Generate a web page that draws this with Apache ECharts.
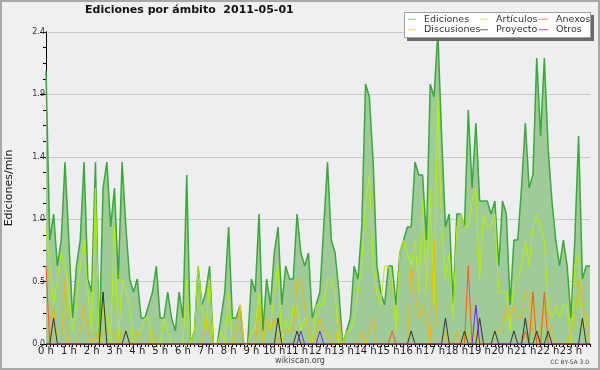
<!DOCTYPE html>
<html>
<head>
<meta charset="utf-8">
<script src="https://cdn.jsdelivr.net/npm/echarts@6/dist/echarts.min.js"></script>
<style>html,body{margin:0;padding:0;background:#f0f0f0}#c{width:600px;height:370px}</style>
</head>
<body>
<div id="c"></div>
<script>
// 10-minute slots, 0..143
const hourLabels = ['0 h','1 h','2 h','3 h','4 h','5 h','6 h','7 h','8 h','9 h','10 h','11 h','12 h','13 h','14 h','15 h','16 h','17 h','18 h','19 h','20 h','21 h','22 h','23 h'];
const yTickLabels = ['0.0','0.5','1.0','1.4','1.9','2.4'];
const seriesNames = ['Ediciones','Artículos','Anexos','Discusiones','Proyecto','Otros'];

const ediciones = [
 2.1,0.8,1.0,0.6,0.8,1.4,0.8,0.2,0.6,0.8,1.4,0.5,0.4,1.4,0.0,1.2,1.4,0.9,1.2,0.5,1.4,0.9,0.5,0.4,0.5,0.2,0.2,0.3,0.4,0.6,0.2,0.2,0.4,0.2,0.1,0.4,0.2,
 1.3,0.0,0.1,0.6,0.3,0.4,0.6,0.0,0.0,0.2,0.4,0.9,0.2,0.2,0.3,0.0,0.0,0.5,0.4,1.0,0.1,0.5,0.3,0.7,0.9,0.3,0.6,0.5,0.5,1.0,0.7,0.6,0.7,0.2,0.3,0.4,
 0.9,1.4,0.8,0.7,0.4,0.0,0.1,0.2,0.6,0.5,0.9,2.0,1.9,1.4,0.6,0.4,0.3,0.6,0.6,0.3,0.7,0.8,0.9,0.9,1.4,1.3,1.3,0.8,2.0,1.9,2.4,1.6,0.9,1.0,0.3,
 1.0,1.0,0.9,1.8,1.2,1.7,1.1,1.1,1.1,1.0,1.1,0.6,1.1,1.0,0.3,0.8,0.8,1.2,1.7,1.2,1.3,2.2,1.6,2.2,1.5,1.1,0.8,0.6,0.8,0.6,0.2,0.8,1.6,0.5,0.6,0.6
];
const articulos = [
 0.9,0.6,0.3,0.5,0.7,0.6,0.4,0.1,0.3,0.6,0.8,0.4,0.1,1.2,0.0,0.3,0.3,0.0,0.9,0.0,0.5,0.4,0.3,0.0,0.1,0.1,0.2,0.2,0.0,0.0,0.0,0.2,0.1,0.0,0.0,0.0,0.0,
 0.5,0.0,0.1,0.6,0.3,0.1,0.5,0.0,0.0,0.1,0.0,0.4,0.0,0.1,0.3,0.0,0.0,0.1,0.1,0.4,0.0,0.2,0.1,0.4,0.6,0.0,0.2,0.1,0.3,0.3,0.1,0.2,0.1,0.0,0.3,0.3,
 0.3,0.5,0.5,0.4,0.0,0.0,0.1,0.1,0.2,0.4,0.6,1.1,1.3,0.6,0.4,0.3,0.6,0.6,0.5,0.1,0.7,0.8,0.7,0.6,0.8,0.4,1.1,0.4,1.2,0.3,1.9,0.9,0.5,0.7,0.2,
 0.9,1.0,0.9,0.9,1.1,1.2,0.5,1.0,0.9,0.9,1.0,0.4,0.4,0.4,0.1,0.5,0.5,0.6,0.8,0.6,0.9,1.0,0.9,0.8,0.3,0.2,0.3,0.2,0.3,0.3,0.0,0.6,0.7,0.1,0.2,0.2
];
const discusiones = [
 0,0,0.3,0,0,0.5,0,0,0,0.1,0.3,0.1,0,0.1,0,0.1,0.1,0.1,0.1,0,0.1,0.1,0,0,0.1,0,0,0,0.1,0,0,0,0,0,0,0,0,
 0,0,0,0,0,0.2,0.1,0,0,0,0,0,0,0.1,0.3,0,0,0,0,0.3,0,0.2,0.1,0.2,0,0.1,0.1,0.1,0.1,0.5,0.5,0.3,0.1,0,0.1,0.2,
 0.1,0.1,0,0,0.2,0,0,0,0,0,0.1,0,0.1,0.2,0,0,0,0,0,0,0,0,0,0.6,0.4,0.2,0.3,0.2,0,0.8,0,0,0.1,0,0,
 0.1,0,0,0.1,0,0.1,0,0,0,0,0.1,0.1,0.1,0.3,0.2,0.3,0.2,0.2,0.4,0.4,0.1,0,0.1,0.3,0.2,0.1,0,0,0,0,0.1,0.2,0.5,0.3,0.2,0
];
const anexos = [
 0.6,0,0,0,0,0,0,0,0,0,0,0,0,0,0,0,0,0,0,0,0,0,0,0,0,0,0,0,0,0,0,0,0,0,0,0,0,
 0,0,0,0,0,0,0,0,0,0,0,0,0,0,0,0,0,0,0,0,0,0,0,0,0,0,0,0,0,0,0,0,0,0,0,0,
 0,0,0,0,0,0,0,0,0,0,0,0,0,0,0,0,0,0,0.1,0,0,0,0,0,0,0,0,0,0,0,0,0,0,0,0,
 0,0,0,0.6,0,0,0,0,0,0,0,0,0,0,0,0,0,0,0.1,0,0.4,0,0,0.4,0,0,0,0,0,0,0,0,0,0,0,0
];
const proyecto = [
 0,0,0.2,0,0,0,0,0,0,0,0,0,0,0,0,0.4,0,0,0,0,0,0.1,0,0,0,0,0,0,0,0,0,0,0,0,0,0,0,
 0,0,0,0,0,0,0,0,0,0,0,0,0,0,0,0,0,0,0,0,0,0,0,0,0.2,0,0,0,0,0.1,0,0,0,0,0,0,
 0,0,0,0,0,0,0,0,0,0,0,0,0,0,0,0,0,0,0,0,0,0,0,0.1,0,0,0,0,0,0,0,0,0.2,0,0,
 0,0,0.1,0,0,0,0.2,0,0,0,0.1,0,0,0,0,0.1,0,0,0.2,0,0,0.1,0,0,0.1,0,0,0,0,0,0,0,0,0.2,0,0
];
const otros = [
 0,0,0,0,0,0,0,0,0,0,0,0,0,0,0,0,0,0,0,0,0,0,0,0,0,0,0,0,0,0,0,0,0,0,0,0,0,
 0,0,0,0,0,0,0,0,0,0,0,0,0,0,0,0,0,0,0,0,0,0,0,0,0,0,0,0,0,0,0.1,0,0,0,0,0.1,
 0,0,0,0,0,0,0,0,0,0,0,0,0,0,0,0,0,0,0,0,0,0,0,0,0,0,0,0,0,0,0,0,0,0,0,
 0,0,0,0,0,0.3,0,0,0,0,0,0,0,0,0,0,0,0,0,0,0,0,0,0,0,0,0,0,0,0,0,0,0,0,0,0
];

const toXY = arr => arr.map((v, i) => [i, v]);
const FONT = 'DejaVu Sans';
const lineColors = {
  'Ediciones': '#3aa83a', 'Artículos': '#b8ef00', 'Anexos': '#ff5a00',
  'Discusiones': '#f2b800', 'Proyecto': '#333333', 'Otros': '#7a1fff'
};
const legendColors = {
  'Ediciones': '#7fcf7f', 'Artículos': '#ccf266', 'Anexos': '#ff8a50',
  'Discusiones': '#ffd24d', 'Proyecto': '#666666', 'Otros': '#9d4dff'
};
function mkLegend(left, names, w) {
  return {
    orient: 'vertical', left: left, top: 14, padding: 0, itemGap: 0,
    itemWidth: w, itemHeight: 1, icon: 'rect', selectedMode: false, z: 30,
    textStyle: { fontFamily: FONT, fontSize: 9.5, color: '#333', lineHeight: 10.5, padding: [0, 0, 0, 3] },
    data: names.map(n => ({ name: n, itemStyle: { color: legendColors[n] } }))
  };
}
function lineSeries(name, data, width, z) {
  return {
    name: name, type: 'line', data: toXY(data), symbol: 'none', z: z,
    color: lineColors[name],
    lineStyle: { color: lineColors[name], width: width },
    emphasis: { disabled: true }
  };
}

const chart = echarts.init(document.getElementById('c'), null, { renderer: 'canvas' });
chart.setOption({
  backgroundColor: '#f0f0f0',
  animation: false,
  title: [
    { text: 'Ediciones por ámbito  2011-05-01', left: 85, top: 5, padding: 0,
      textStyle: { fontFamily: FONT, fontWeight: 'bold', fontSize: 11, color: '#111' } },
    { text: 'wikiscan.org', left: 'center', top: 357, padding: 0,
      textStyle: { fontFamily: FONT, fontWeight: 'normal', fontSize: 8, color: '#444' } },
    { text: 'CC BY-SA 3.0', right: 11, top: 359, padding: 0,
      textStyle: { fontFamily: FONT, fontWeight: 'normal', fontSize: 6, color: '#444' } }
  ],
  grid: { left: 46, right: 10, top: 32, bottom: 26, show: true, backgroundColor: '#eceef0',
          borderWidth: 0, containLabel: false, outerBoundsMode: 'none' },
  xAxis: {
    type: 'value', min: 0, max: 143, interval: 1,
    axisLine: { lineStyle: { color: '#000', width: 1 } },
    axisTick: { length: 3, lineStyle: { color: '#000' } },
    axisLabel: { margin: 2, fontFamily: FONT, fontSize: 10, color: '#222',
      formatter: v => (v % 6 === 0 ? hourLabels[v / 6] : '') },
    splitLine: { show: false }
  },
  yAxis: [
    { type: 'value', min: 0, max: 2.4, interval: 0.48, position: 'left',
      axisLine: { show: true, lineStyle: { color: '#000' } },
      axisTick: { show: true, length: 6, lineStyle: { color: '#000' } },
      axisLabel: { margin: 1, fontFamily: FONT, fontSize: 8, color: '#333',
        formatter: v => yTickLabels[Math.round(v / 0.48)] },
      splitLine: { show: true, lineStyle: { color: '#c8c8c8', width: 1 } },
      name: 'Ediciones/min', nameLocation: 'middle', nameGap: 31,
      nameTextStyle: { fontFamily: FONT, fontSize: 11, color: '#111' } },
    { type: 'value', min: 0, max: 2.4, interval: 0.12, position: 'left',
      axisLine: { show: true, lineStyle: { color: '#000' } },
      axisTick: { show: true, length: 3, lineStyle: { color: '#000' } },
      axisLabel: { show: false }, splitLine: { show: false } }
  ],
  legend: [
    mkLegend(408, ['Ediciones', 'Discusiones'], 8),
    mkLegend(480, ['Artículos', 'Proyecto'], 8),
    mkLegend(539, ['Anexos', 'Otros'], 9)
  ],
  graphic: [
    { type: 'rect', z: 0, silent: true, shape: { x: 1, y: 1, width: 598, height: 368 },
      style: { fill: null, stroke: '#a8a8a8', lineWidth: 2 } },
    { type: 'rect', z: 20, silent: true, shape: { x: 407, y: 15, width: 187, height: 26 },
      style: { fill: '#6a6a6a' } },
    { type: 'rect', z: 21, silent: true, shape: { x: 404.5, y: 12.5, width: 186, height: 25 },
      style: { fill: '#ffffff', stroke: '#a0a0a0', lineWidth: 1 } }
  ],
  series: [
    Object.assign(lineSeries('Ediciones', ediciones, 1.5, 2), {
      areaStyle: { color: '#9ecb98', opacity: 1 }
    }),
    lineSeries('Artículos', articulos, 1, 3),
    lineSeries('Discusiones', discusiones, 1, 4),
    lineSeries('Anexos', anexos, 1, 5),
    lineSeries('Proyecto', proyecto, 1, 6),
    lineSeries('Otros', otros, 1, 7)
  ]
});
</script>
</body>
</html>
